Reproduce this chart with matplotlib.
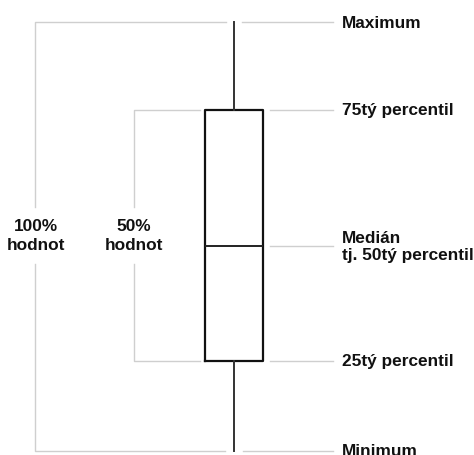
import matplotlib
matplotlib.use("Agg")
import matplotlib.pyplot as plt

# Box-plot statistics (vertical units, arbitrary scale)
stat_names = ["Minimum", "25tý percentil", "Medián\ntj. 50tý percentil", "75tý percentil", "Maximum"]
stat_values = [0, 90, 205, 341, 429]
range_labels = ["100%\nhodnot", "50%\nhodnot"]

vmin, q1, med, q3, vmax = stat_values

fig = plt.figure(figsize=(4.74, 4.56), dpi=100)
ax = fig.add_axes([0, 0, 1, 1])
ax.set_xlim(0, 474)
ax.set_ylim(-4, 452)
ax.axis("off")

box_x = 234
ax.bxp([{"whislo": vmin, "q1": q1, "med": med, "q3": q3, "whishi": vmax, "fliers": []}],
       positions=[box_x], widths=58, showcaps=False, showfliers=False,
       boxprops=dict(color="#111111", lw=1.6),
       medianprops=dict(color="#222222", lw=1.4),
       whiskerprops=dict(color="#333333", lw=1.4))

grey = "#cfcfcf"
lw = 1.0
label_x0 = 333
# right leader lines
ax.plot([242, label_x0], [vmax, vmax], color=grey, lw=lw)
ax.plot([243, label_x0], [vmin, vmin], color=grey, lw=lw)
for v in (q3, med, q1):
    ax.plot([270, label_x0], [v, v], color=grey, lw=lw)

# 100% bracket
bx1 = 35
ax.plot([226, bx1, bx1], [vmax, vmax, 244], color=grey, lw=lw)
ax.plot([225, bx1, bx1], [vmin, vmin, 187], color=grey, lw=lw)
# 50% bracket
bx2 = 134
ax.plot([200, bx2, bx2], [q3, q3, 244], color=grey, lw=lw)
ax.plot([200, bx2, bx2], [q1, q1, 187], color=grey, lw=lw)

font = dict(family="Liberation Sans", weight="bold", fontsize=12.4, color="#111111")
ax.text(bx1 + 1, 216, range_labels[0], ha="center", va="center", linespacing=1.3, **font)
ax.text(bx2, 216, range_labels[1], ha="center", va="center", linespacing=1.3, **font)

for name, v in zip(stat_names, stat_values):
    ax.text(342, v, name, ha="left", va="center", linespacing=1.2, **font)

fig.savefig("out.png", dpi=100)
